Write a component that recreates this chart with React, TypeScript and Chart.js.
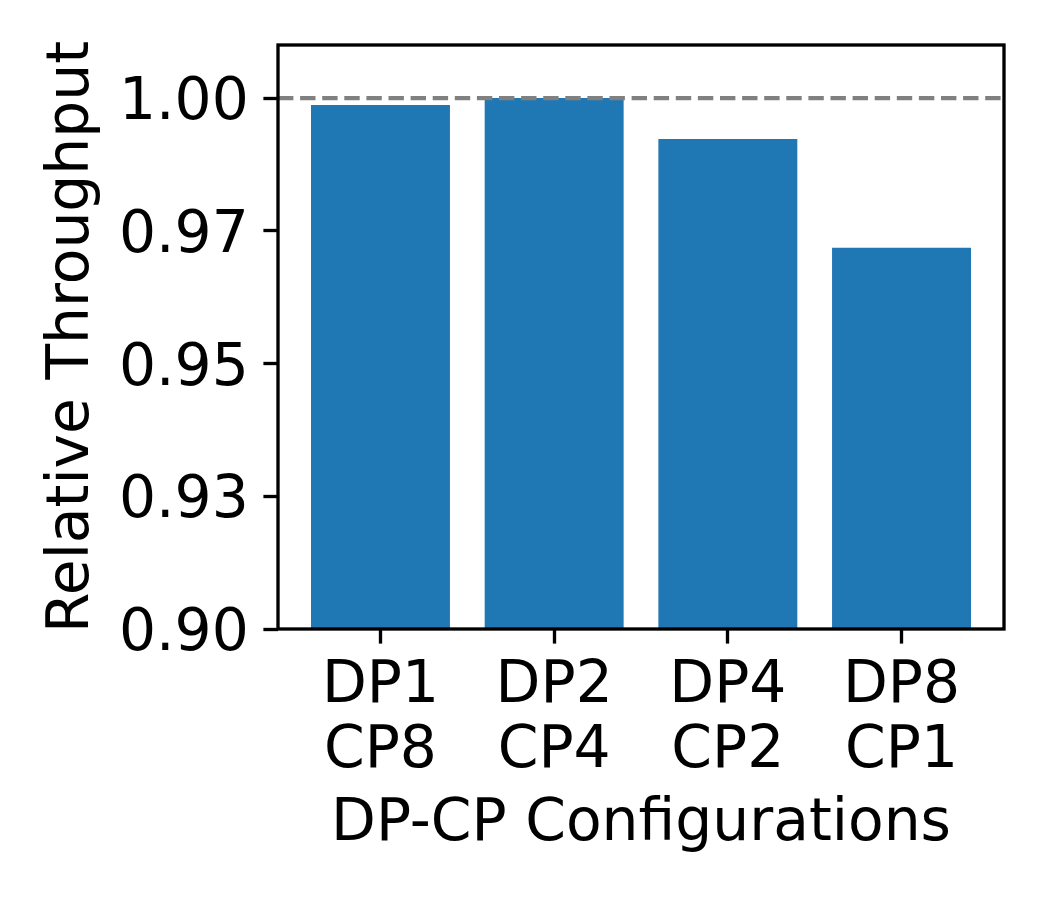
import React, { useEffect, useRef } from "react";
import { Chart, registerables } from "chart.js";

Chart.register(...registerables);

const configTopLabels = ["DP1", "DP2", "DP4", "DP8"];
const configBottomLabels = ["CP8", "CP4", "CP2", "CP1"];
const relativeThroughput = [0.9987, 1.0, 0.9923, 0.9718];
const yTickValues = [0.9, 0.925, 0.95, 0.975, 1.0];
const yTickLabels = ["0.90", "0.93", "0.95", "0.97", "1.00"];
const referenceLevel = 1.0;
const yMin = 0.9;
const yMax = 1.01;

const FONT = "'DejaVu Sans', 'Liberation Sans', sans-serif";
const FS = 58.3;
const SPINE = 3.33;
const TICK = 14.6;

export default function App() {
  const ref = useRef<HTMLCanvasElement | null>(null);

  useEffect(() => {
    const canvas = ref.current;
    if (!canvas) return;

    const framePlugin = {
      id: "frame",
      afterDatasetsDraw(chart: any) {
        const { ctx, chartArea, scales } = chart;
        const y = scales.y.getPixelForValue(referenceLevel);
        ctx.save();
        ctx.strokeStyle = "#808080";
        ctx.lineWidth = 4.17;
        ctx.setLineDash([15.4, 6.7]);
        ctx.beginPath();
        ctx.moveTo(chartArea.left, y);
        ctx.lineTo(chartArea.right, y);
        ctx.stroke();
        ctx.restore();
      },
      afterDraw(chart: any) {
        const { ctx, chartArea } = chart;
        ctx.save();
        ctx.strokeStyle = "#000";
        ctx.lineWidth = SPINE;
        ctx.setLineDash([]);
        ctx.strokeRect(
          chartArea.left,
          chartArea.top,
          chartArea.right - chartArea.left,
          chartArea.bottom - chartArea.top
        );
        ctx.restore();
      },
    };

    const chart = new Chart(canvas, {
      type: "bar",
      data: {
        datasets: [
          {
            data: relativeThroughput.map((v, i) => ({ x: i, y: v })),
            backgroundColor: "#1f77b4",
            borderWidth: 0,
            barPercentage: 0.8,
            categoryPercentage: 1.0,
          },
        ],
      },
      options: {
        responsive: false,
        animation: false,
        layout: { padding: { top: 45, right: 46, left: 0, bottom: 0 } },
        plugins: { legend: { display: false }, tooltip: { enabled: false } },
        scales: {
          x: {
            type: "linear",
            offset: false,
            min: -0.59,
            max: 3.59,
            afterBuildTicks: (scale: any) => {
              scale.ticks = configTopLabels.map((_, i) => ({ value: i }));
            },
            afterFit: (scale: any) => {
              scale.height = 271;
              scale.paddingLeft = 0;
              scale.paddingRight = 0;
            },
            ticks: {
              autoSkip: false,
              maxRotation: 0,
              minRotation: 0,
              padding: 10.7,
              color: "#000",
              font: { family: FONT, size: FS, lineHeight: 65 / FS },
              callback: (v: any) => {
                const i = Math.round(Number(v));
                return [configTopLabels[i], configBottomLabels[i]];
              },
            },
            grid: {
              display: true,
              offset: false,
              drawOnChartArea: false,
              drawTicks: true,
              tickLength: TICK,
              tickWidth: SPINE,
              tickColor: "#000",
            },
            border: { display: false },
            title: {
              display: true,
              text: "DP-CP Configurations",
              color: "#000",
              font: { family: FONT, size: FS, lineHeight: 1.2 },
              padding: { top: 0, bottom: 40.2 },
            },
          },
          y: {
            min: yMin,
            max: yMax,
            afterBuildTicks: (scale: any) => {
              scale.ticks = yTickValues.map((v) => ({ value: v }));
            },
            afterFit: (scale: any) => {
              scale.width = 278;
              scale.paddingTop = 0;
              scale.paddingBottom = 0;
            },
            ticks: {
              padding: TICK,
              labelOffset: 6,
              color: "#000",
              font: { family: FONT, size: FS, lineHeight: 1.2 },
              callback: (v: any) => {
                const idx = yTickValues.findIndex((t) => Math.abs(t - Number(v)) < 1e-9);
                return idx >= 0 ? yTickLabels[idx] : "";
              },
            },
            grid: {
              display: true,
              drawOnChartArea: false,
              drawTicks: true,
              tickLength: TICK,
              tickWidth: SPINE,
              tickColor: "#000",
            },
            border: { display: false },
            title: {
              display: true,
              text: "Relative Throughput",
              color: "#000",
              font: { family: FONT, size: FS, lineHeight: 1.2 },
              padding: { top: 38.2, bottom: 0 },
            },
          },
        },
      },
      plugins: [framePlugin],
    } as any);

    return () => chart.destroy();
  }, []);

  return (
    <div style={{ position: "fixed", left: 0, top: 0, width: 1050, height: 900, background: "#fff" }}>
      <canvas ref={ref} width={1050} height={900} style={{ display: "block", width: 1050, height: 900 }} />
    </div>
  );
}
